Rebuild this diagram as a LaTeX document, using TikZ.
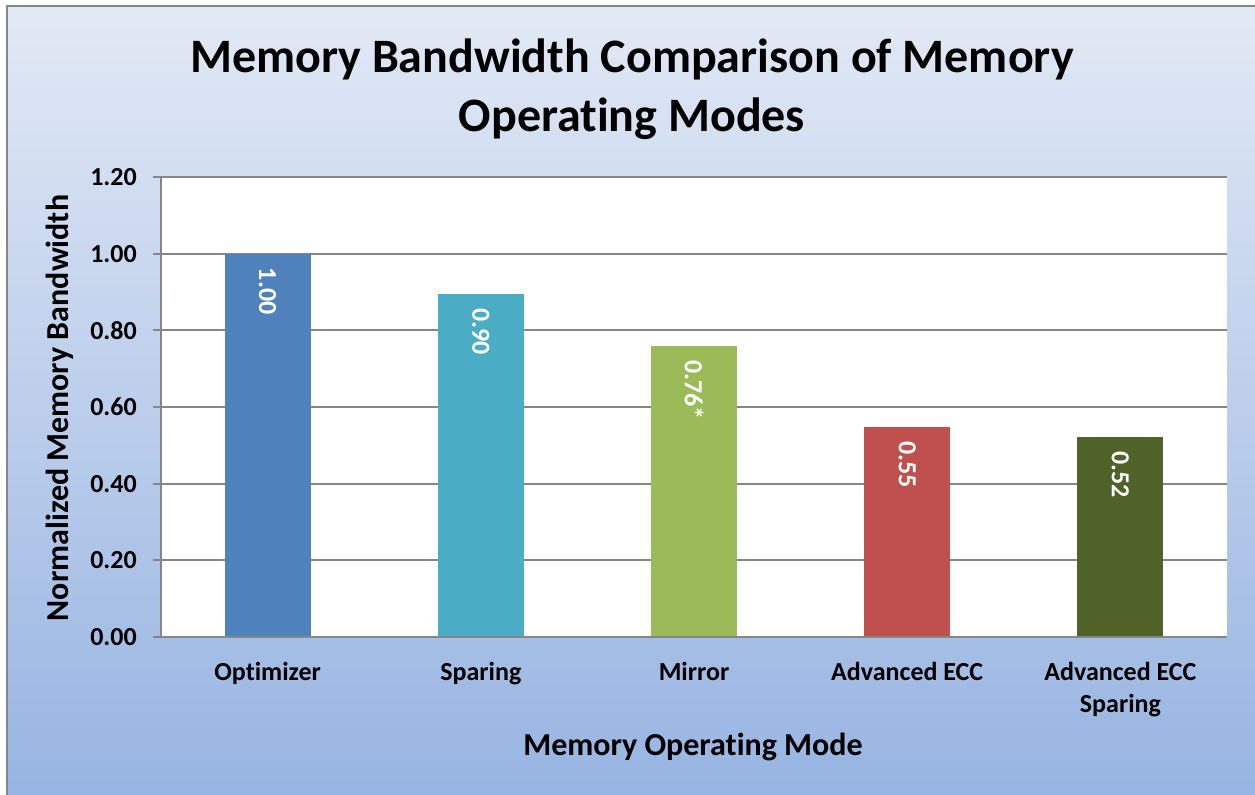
\documentclass[tikz,border=0pt]{standalone}
\usepackage{fontspec}
\setmainfont[Ligatures=NoCommon]{Carlito}
\usetikzlibrary{positioning}
\definecolor{bgtop}{HTML}{E2E9F5}
\definecolor{bgbottom}{HTML}{97B4E2}
\definecolor{gridgray}{HTML}{868686}
\definecolor{barblue}{HTML}{4F81BD}
\definecolor{barcyan}{HTML}{4BACC6}
\definecolor{bargreen}{HTML}{9BBB59}
\definecolor{barred}{HTML}{C0504D}
\definecolor{barolive}{HTML}{4F6228}

\begin{document}
\begin{tikzpicture}[
        x=0.75pt, y=-0.75pt,
        gridline/.style={draw=gridgray, line width=1.5pt},
        ticklabel/.style={
            anchor=east,
            inner sep=0pt,
            font=\fontsize{19.5}{23}\selectfont\bfseries
        },
        catlabel/.style={
            anchor=north,
            inner sep=0pt,
            align=center,
            font=\fontsize{19.5}{24}\selectfont\bfseries
        },
        barlabel/.style={
            anchor=west,
            rotate=-90,
            inner sep=0pt,
            text=white,
            font=\fontsize{19.5}{23}\selectfont\bfseries
        },
        axistitle/.style={
            inner sep=0pt,
            font=\fontsize{24}{29}\selectfont\bfseries
        }
    ]
        \useasboundingbox (0,0) rectangle (1255,795);
        \fill[white] (0,0) rectangle (1255,795);
        \shade[top color=bgtop, bottom color=bgbottom] (7,6) rectangle (1255,795);
        \draw[gridline] (7,795) -- (7,6) -- (1255,6);

        % plot area
        \fill[white] (161,177) rectangle (1227,637);
        \foreach \v/\t in {0/0.00, 0.2/0.20, 0.4/0.40, 0.6/0.60, 0.8/0.80, 1.0/1.00, 1.2/1.20} {
            \pgfmathsetmacro\yy{637-383.33*\v}
            \draw[gridline] (153,\yy) -- (1227,\yy);
            \node[ticklabel] (tick-\t) at (137,\yy) {\t};
        }

        % bars
        \foreach \i/\v/\txt/\col/\name/\cat in {
            1/1.00/1.00/barblue/opt/Optimizer,
            2/0.895/0.90/barcyan/spar/Sparing,
            3/0.759/0.76*/bargreen/mirr/Mirror,
            4/0.548/0.55/barred/aecc/Advanced ECC,
            5/0.522/0.52/barolive/aeccs/{Advanced ECC\\Sparing}} {
            \pgfmathsetmacro\cx{161+213.2*(\i-0.5)}
            \pgfmathsetmacro\bartop{637-383.33*\v}
            \fill[\col] (\cx-43,\bartop) rectangle (\cx+43,637);
            \node[barlabel] (val-\name) at (\cx,\bartop+14) {\txt};
            \node[catlabel] (cat-\name) at (\cx,662) {\cat};
        }
        \draw[gridline] (161,177) -- (161,637) -- (1227,637);

        % titles
        \node[inner sep=0pt, align=center,
            font=\fontsize{36}{44.5}\selectfont\bfseries] (title) at (632,89)
            {Memory Bandwidth Comparison of Memory\\Operating Modes};
        \node[axistitle, rotate=90] (ytitle) at (60,408) {Normalized Memory Bandwidth};
        \node[axistitle] (xtitle) at (693,747) {Memory Operating Mode};
    \end{tikzpicture}
\end{document}
